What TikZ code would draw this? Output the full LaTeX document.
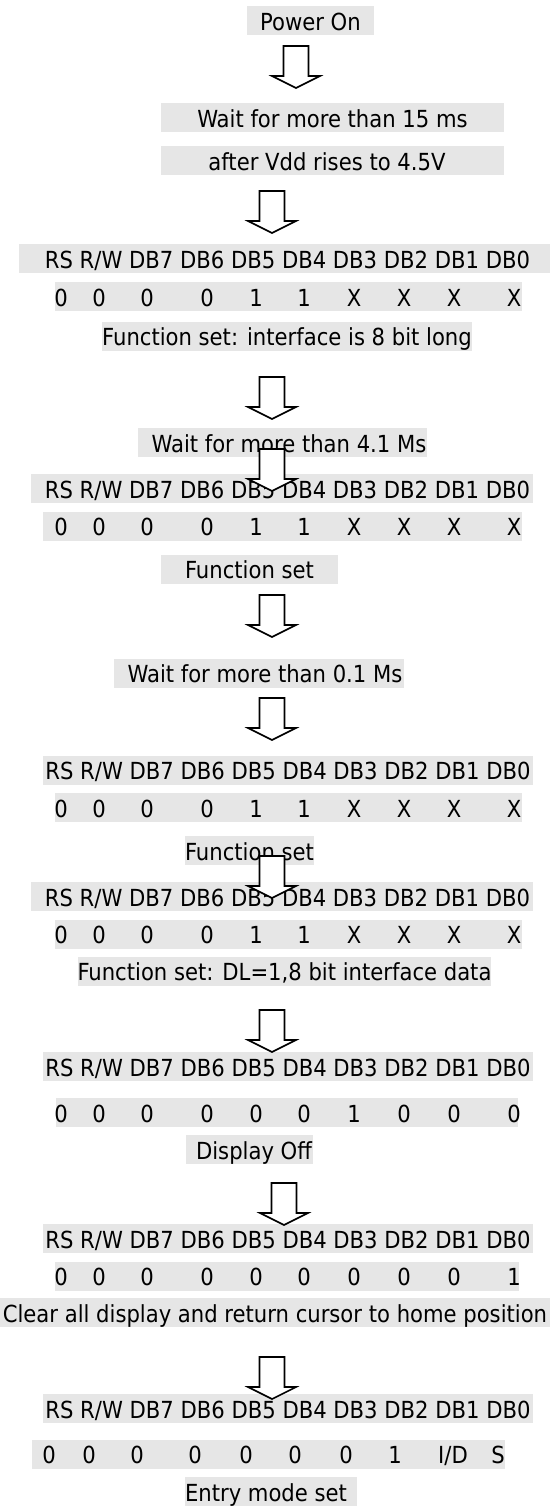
\documentclass[tikz,border=0pt]{standalone}
\usepackage{fontspec}
\setmainfont{DejaVu Sans Condensed}
\definecolor{boxgray}{RGB}{230,230,230}
\newcommand{\rsrow}{RS R/W DB7 DB6 DB5 DB4 DB3 DB2 DB1 DB0}
\tikzset{
 gbox/.style={fill=boxgray, inner sep=0pt, minimum height=29pt, text height=23pt, text depth=3.4pt, font=\fontsize{23.5}{28}\selectfont},
 bgbar/.style={fill=boxgray, inner sep=0pt, minimum height=29pt},
 val/.style={inner sep=0pt, text height=23pt, text depth=3.4pt, font=\fontsize{23.5}{28}\selectfont},
 blockarrow/.pic={\draw[line width=1.6pt, fill=white, line join=miter] (-12.5,0) -- (-12.5,30) -- (-24,30) -- (0,42) -- (24,30) -- (12.5,30) -- (12.5,0) -- cycle;}
}
\begin{document}
\begin{tikzpicture}[x=1pt,y=-1pt]
\useasboundingbox (0,0) rectangle (550,1506);
% boxes with text
\node[gbox, minimum width=127pt] (pwr) at (310.5,20.5) {Power On};
\node[gbox, minimum width=343pt] (w15) at (332.5,117.5) {Wait for more than 15 ms};
\node[gbox, minimum width=343pt] (vdd) at (332.5,160.5) {after Vdd rises to 4.5V\hspace*{11pt}};
\node[gbox, minimum width=531pt] (rs1) at (284.5,258.5) {\hspace*{6pt}\rsrow};
\node[bgbar, minimum width=467pt] (v1) at (288.5,296.5) {};
\node[gbox, minimum width=364pt] (f1) at (287,336) {Function set: interface is 8 bit long};
\node[gbox, minimum width=289pt] (w41) at (282.5,442.5) {\hspace*{13pt}Wait for more than 4.1 Ms};
\node[gbox, minimum width=502pt] (rs2) at (282,488.5) {\hspace*{11pt}\rsrow};
\node[bgbar, minimum width=479pt] (v2) at (282.5,526) {};
\node[gbox, minimum width=177pt] (fs1) at (249.5,569) {Function set};
\node[gbox, minimum width=290pt] (w01) at (259,673) {\hspace*{12pt}Wait for more than 0.1 Ms};
\node[gbox, minimum width=490pt] (rs3) at (288,770) {\rsrow};
\node[bgbar, minimum width=467pt] (v3) at (288.5,807.5) {};
\node[gbox, minimum width=129pt] (fs2) at (249.5,850.5) {Function set};
\node[gbox, minimum width=502pt] (rs4) at (282,896.5) {\hspace*{11pt}\rsrow};
\node[bgbar, minimum width=467pt] (v4) at (288.5,934) {};
\node[gbox, minimum width=411pt] (fdl) at (284.5,971) {Function set: DL=1,8 bit interface data};
\node[gbox, minimum width=490pt] (rs5) at (288,1066.5) {\rsrow};
\node[bgbar, minimum width=462pt] (v5) at (287,1112.5) {};
\node[gbox, minimum width=127pt] (doff) at (249.5,1149.5) {\hspace*{9pt}Display Off};
\node[gbox, minimum width=490pt] (rs6) at (288,1238.5) {\rsrow};
\node[bgbar, minimum width=464pt] (v6) at (287,1276) {};
\node[gbox, minimum width=550pt] (clr) at (275,1312.5) {Clear all display and return cursor to home position};
\node[gbox, minimum width=490pt] (rs7) at (288,1408.5) {\rsrow};
\node[bgbar, minimum width=473pt] (v7) at (268.5,1454) {};
\node[gbox, minimum width=172pt] (ent) at (271,1491.5) {Entry mode set\hspace*{10pt}};
% value rows
\foreach \x/\t [count=\i] in {61/0,99/0,147/0,207/0,256/1,304/1,354/X,404/X,454/X,514/X}{
  \node[val] (v1-\i) at (\x,296.5) {\t};
  \node[val] (v2-\i) at (\x,526) {\t};
  \node[val] (v3-\i) at (\x,807.5) {\t};
  \node[val] (v4-\i) at (\x,934) {\t};
}
\foreach \x/\t [count=\i] in {61/0,99/0,147/0,207/0,256/0,304/0,354/1,404/0,454/0,514/0}{
  \node[val] (v5-\i) at (\x,1112.5) {\t};
}
\foreach \x/\t [count=\i] in {61/0,99/0,147/0,207/0,256/0,304/0,354/0,404/0,454/0,514/1}{
  \node[val] (v6-\i) at (\x,1276) {\t};
}
\foreach \x/\t [count=\i] in {49/0,89/0,137/0,195/0,246/0,295/0,346/0,395/1,453/{I/D},498/S}{
  \node[val] (v7-\i) at (\x,1454) {\t};
}
% block arrows
\pic (a1) at (296,46) {blockarrow};
\pic (a2) at (272,191) {blockarrow};
\pic (a3) at (272,377) {blockarrow};
\pic (a4) at (272,449) {blockarrow};
\pic (a5) at (272,595) {blockarrow};
\pic (a6) at (272,698) {blockarrow};
\pic (a7) at (272,856) {blockarrow};
\pic (a8) at (272,1010) {blockarrow};
\pic (a9) at (284,1183) {blockarrow};
\pic (a10) at (272,1357) {blockarrow};
\end{tikzpicture}
\end{document}
